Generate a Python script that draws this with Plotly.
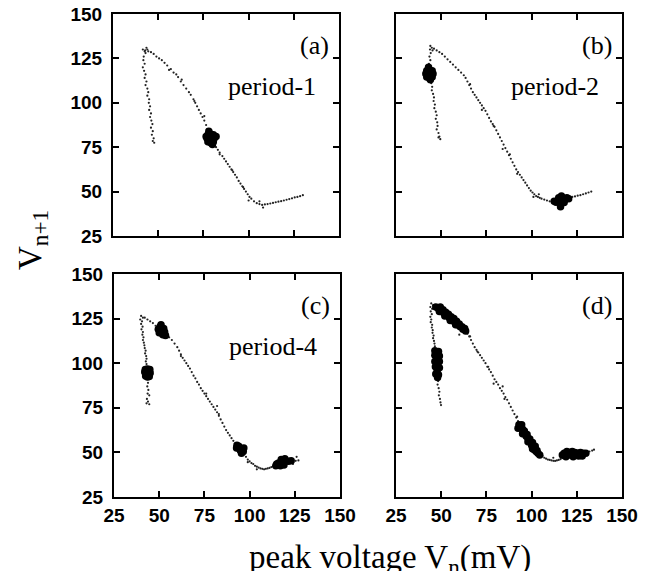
import plotly.graph_objects as go

# the page body adds an 8px margin at top/left; the figure runs to the window edge
PAGE_W, PAGE_H, PAD = 650, 571, 8
W, H = PAGE_W - PAD, PAGE_H - PAD

# ---- data: (Vn, Vn+1) pairs ----
a_dots = [
    (41.5, 130), (42.5, 129), (43, 128), (42, 126), (41.8, 124), (42.5, 122), (41.5, 120), (42.2, 118),
    (43, 116), (42.5, 114), (43.5, 112), (43, 110), (44, 108), (44.5, 106), (44, 104), (45, 102),
    (44.8, 100), (45.5, 98), (45, 96), (46, 94), (45.5, 92), (46.2, 90), (46.8, 88), (46, 86),
    (47, 84), (46.5, 82), (47.5, 80), (47, 78.5), (47.8, 77.5),
    (43.5, 131), (44, 130), (42.8, 129.5), (44.5, 129),
    (46, 128.5), (47.5, 127.5), (49, 126), (50.5, 125), (52, 124), (53.5, 122.5), (55, 121), (57, 119),
    (58.5, 117), (60, 116), (61, 114.5), (62.5, 112), (64, 110), (65.5, 108), (67, 106), (68, 104.5),
    (69.5, 102), (70.5, 100), (71.5, 98), (72.5, 96), (73.5, 94), (74.5, 92), (75.5, 90), (76.5, 87.5),
    (77, 85), (81, 77), (82, 75), (83, 73.5), (84, 72), (85.5, 70), (86.5, 68.5), (87.5, 67),
    (88.5, 65.5), (89.5, 64), (90.5, 62.5), (91.5, 61), (92.5, 59.5), (93.5, 58), (94.5, 56),
    (95.5, 54.5), (96.5, 53), (97.5, 51.5), (98.5, 50), (99.5, 48.5), (100.5, 47), (101.5, 46),
    (103, 44.5), (104.5, 43.5), (106, 43), (107.5, 42.5), (109, 42.8), (110.5, 43), (112, 43.3),
    (113.5, 43.6), (115, 44), (116.5, 44.3), (118, 44.6), (119.5, 45), (121, 45.4), (122.5, 45.8),
    (124, 46.2), (125.5, 46.7), (127, 47), (128.5, 47.4), (130, 48),
    (56, 118.5), (63, 113), (70, 101), (75.5, 92.5), (84, 71), (91, 62), (97, 52.5), (100, 45),
    (108, 41), (106, 44.5),
]
a_blobs = [
    (79, 80), (77, 80), (81, 80), (79, 82.5), (79, 77.5), (77.5, 82), (80.5, 82), (77.5, 78),
    (80.5, 78), (78, 84), (80, 76.5), (82, 81), (76.5, 81), (79, 79), (78, 80.5),
]

b_dots = [
    (44, 132), (44.8, 131), (43.8, 130), (45.2, 129.5), (44.2, 128), (43.5, 126), (44, 124), (43.2, 122),
    (43.8, 120), (43, 118), (44, 113), (44.5, 111), (45, 109), (44.8, 107), (45.5, 105), (46, 103),
    (45.8, 101), (46.5, 99), (46.2, 97), (47, 95), (47.5, 93), (47, 91), (47.8, 89), (48, 87),
    (47.5, 85), (48.5, 83), (49, 81), (49.5, 79.5), (48.5, 80.5),
    (46, 130.5), (47.5, 129.5), (49, 128.5), (50.5, 127.5), (52, 126), (53.5, 124.5), (55, 123),
    (56.5, 121.5), (58, 120), (59.5, 118.5), (61, 117), (62.5, 115.5), (63.5, 114), (64.5, 112),
    (65.5, 110), (66.5, 108), (67.5, 106), (68.5, 104.5), (69.5, 103), (70.5, 101.5), (71.5, 100),
    (72.5, 98.5), (73.5, 97), (74.5, 95.5), (75.5, 93.5), (76.5, 91.5), (77.5, 89.5), (78.5, 88),
    (79.5, 86.5), (80.5, 84.5), (81.5, 82.5), (82.5, 80.5), (83.5, 78.5), (84.5, 76.5), (85.5, 74.5),
    (86.5, 72.5), (87.5, 70.5), (88.5, 68.5), (89.5, 66.5), (90.5, 64.5), (91.5, 62.5), (92.5, 61),
    (93.5, 59.5), (94.5, 58), (95.5, 56.5), (96.5, 55), (97.5, 53.5), (98.5, 52), (99.5, 50.5),
    (100.5, 49.5), (101.5, 48.5), (102.5, 47.5), (103.5, 47), (104.5, 46.5), (105.5, 46), (107, 45.5),
    (108.5, 45), (110, 44.5), (111.5, 44.5), (113, 44.5),
    (118, 46), (119.5, 46.5), (121, 46.8), (122.5, 47), (124, 47.3), (125.5, 47.7), (127, 48),
    (128.5, 48.5), (130, 49), (131.5, 49.5), (133, 50),
    (66, 110.5), (72.5, 96), (79, 87), (84, 74), (88, 71), (92, 60), (101, 47), (104, 48.5), (112, 43.5),
]
b_blobs = [
    (43.5, 116.3), (41.5, 116.3), (45.5, 116.3), (43.5, 118.5), (43.5, 114), (42, 118), (45, 118),
    (42, 114.5), (45, 114.5), (43, 120), (44, 113),
    (116.5, 45), (114.5, 45), (118.5, 45.5), (116.5, 47.5), (116, 43), (113.5, 44), (119.5, 46.5),
    (115, 46.5), (118, 43.8), (116, 41.5), (112.5, 44.5), (120.5, 46),
]

c_dots = [
    (40, 126.5), (41, 125.5), (39.5, 124.5), (40.5, 123.5), (40, 122), (40.8, 120.5), (40.2, 119),
    (41, 117.5), (40.7, 116), (41.3, 114.5), (41, 113), (41.5, 111.5), (41.8, 110), (42, 108.5),
    (42.5, 107), (42.2, 105.5), (42.8, 104), (43, 102.5), (42.6, 101), (43, 99.5), (43.3, 98),
    (43.5, 91), (43.8, 89), (43.4, 87), (44, 85), (43.6, 83), (44.5, 82), (43.2, 80), (43.8, 78.5),
    (44.5, 77), (43, 77.5),
    (42, 125.5), (43.5, 124.5), (45, 123.5), (46.5, 122.5), (48, 121),
    (54, 116), (55.5, 114.5), (57, 113), (58.5, 111), (60, 109), (61, 107), (62, 105), (63, 103),
    (64, 101.5), (65, 100), (66, 98.5), (67, 97), (68, 95), (69, 93), (70, 91.5), (71, 89.5),
    (72, 88), (73, 86), (74, 84.5), (75, 83), (76, 81.5), (77, 80), (78, 78.5), (79, 77), (80, 75.5),
    (81, 74), (82, 72.5), (83, 70.5), (84, 68.5), (85, 66.5), (86, 64.5), (87, 62.5), (88, 61),
    (89, 59.5), (90, 58), (91, 56.5), (92, 55),
    (97, 49), (98, 47.5), (99, 46), (100, 45), (101, 44), (102, 43.5), (103, 42.5), (104, 42),
    (105, 41.5), (106, 41), (107, 40.8), (108, 40.5), (109, 40.8), (110, 41), (111, 41.3), (112, 41.8),
    (113, 42.3), (114, 42.8), (121, 44.5), (122.5, 44.8), (124, 45), (125.5, 45.3), (127, 45.5),
    (62, 104), (76, 83), (82, 76), (83, 71.5), (99, 44.5), (104, 40.5), (117, 47), (126, 47.5), (124, 43.5),
]
c_blobs = [
    (51.3, 118.2), (49.5, 119), (53, 117.5), (50.5, 120.5), (52, 116), (50, 117), (52.5, 119.5),
    (51, 121.5), (53.5, 115.5),
    (43.5, 94.5), (42, 95), (45, 94.5), (43.5, 96.8), (43.5, 92.3), (42.3, 96.5), (44.8, 96.5),
    (42.5, 92.8), (44.5, 92.5),
    (94.7, 51.5), (92.8, 52.5), (96.5, 50.5), (94, 53.5), (95.5, 49.5), (93, 54), (96.8, 52.5), (95, 51),
    (116, 44), (118, 44.5), (120, 45), (117, 42.5), (119, 43), (115, 43.5), (121.5, 45), (117.5, 46),
    (123, 45.3), (114.5, 42.5), (119.5, 46.5),
]

d_dots = [
    (44.5, 133.5), (45.5, 132.5), (44, 131.5), (45, 130.5), (44.2, 129), (44.8, 127.5), (44, 126),
    (44.5, 124.5), (44.2, 123), (45, 121.5), (44.8, 120), (45.3, 118.5), (45.2, 117), (45.8, 115.5),
    (45.5, 114), (46, 112.5), (46.3, 111), (46.5, 109.5), (46.7, 108),
    (48, 92), (48.3, 90), (48, 88), (48.6, 86), (49, 84), (48.7, 82), (49.3, 80), (49.6, 78), (49.9, 76.5),
    (46, 132.5), (64.5, 116.5), (65.5, 115), (66.5, 113), (67.5, 111), (68.5, 109), (69.5, 107.5),
    (70.5, 106), (71.5, 104.5), (72.5, 103), (73.5, 101.5), (74.5, 100), (75.5, 98), (76.5, 96.5),
    (77.5, 95), (78.5, 93), (79.5, 91), (80.5, 89.5), (81.5, 88), (82.5, 86), (83.5, 84.5), (84.5, 83),
    (85.5, 81), (86.5, 79.5), (87.5, 77.5), (88.5, 75.5), (89.5, 73.5), (90.5, 71.5), (91.5, 69.5),
    (92.5, 67.5), (93.5, 66),
    (106, 48), (107, 47), (108, 46.5), (109, 46), (110, 45.8), (111, 45.5), (112, 45.3), (113, 45.2),
    (114, 45.5), (115, 45.8), (116, 46.2), (117, 46.8), (132, 50.5), (133.5, 51), (134.5, 51.5),
    (70, 106.5), (76, 98), (79, 88.5), (84, 87), (85, 80), (92, 70), (112, 47), (60, 116), (66, 115),
]
d_blobs = [
    (47, 131.5), (48.5, 130.5), (49.5, 131.5), (50, 129.5), (51, 130), (51.5, 128), (52.5, 128.5),
    (53, 127), (54, 127.5), (54.5, 125.5), (55.5, 126), (56, 124.5), (57, 125), (57.5, 123),
    (58.5, 123.5), (59, 121.5), (60, 122), (60.5, 120.5), (61.5, 120.5), (62, 119), (63, 119.5),
    (63.5, 118), (49, 129), (52, 126.5), (55, 124), (58, 121.5),
    (47.8, 106), (46.5, 104.5), (49, 104), (47.5, 102.5), (46.5, 101), (49, 101), (48, 99.5),
    (46.8, 98), (49, 97.5), (47.8, 96), (47, 94), (48.5, 93.5), (48, 92), (48.5, 106.5), (46.5, 107),
    (93, 65.5), (94, 64), (95, 63), (95.5, 61.5), (96.5, 60.5), (97, 59), (98, 58), (98.5, 56.5),
    (99.5, 55.5), (100, 54), (101, 53), (101.5, 51.5), (102.5, 50.5), (103.5, 49.5), (104.5, 48.5),
    (94.5, 65.5), (96, 62), (97.5, 60), (99, 57.5), (100.5, 55.5), (102, 53.5), (103, 51),
    (92.5, 63.5), (95, 60.5), (98, 56), (100.5, 52),
    (118, 49.5), (119.5, 50.5), (121, 50), (122.5, 50.5), (124, 50), (125.5, 49.5), (127, 50),
    (128.5, 49.5), (120, 48.5), (122, 48.5), (124, 48.5), (126, 48), (128, 48), (117, 48.5),
    (130, 49.5), (119, 47.5), (123, 47.5),
]

panel_tags = ["(a)", "(b)", "(c)", "(d)"]
panel_periods = ["period-1", "period-2", "period-4", ""]
tick_vals = [25, 50, 75, 100, 125, 150]


# page pixel -> figure paper fraction
def px_x(p):
    return (p - PAD) / W


def px_y(p):
    return 1 - (p - PAD) / H


# panel boxes in page pixels: (left, right, top, bottom)
boxes = [(113, 339, 14, 236), (396, 622, 14, 236), (114, 340, 274, 497), (396, 622, 274, 497)]

fig = go.Figure()
panels = [(a_dots, a_blobs), (b_dots, b_blobs), (c_dots, c_blobs), (d_dots, d_blobs)]
for i, (dots, blobs) in enumerate(panels):
    ax = "" if i == 0 else str(i + 1)
    fig.add_trace(go.Scatter(
        x=[p[0] for p in dots], y=[p[1] for p in dots], mode="markers",
        marker=dict(size=2.2, color="#222"), xaxis="x" + ax, yaxis="y" + ax, showlegend=False,
    ))
    fig.add_trace(go.Scatter(
        x=[p[0] for p in blobs], y=[p[1] for p in blobs], mode="markers",
        marker=dict(size=7.5, color="black"), xaxis="x" + ax, yaxis="y" + ax, showlegend=False,
    ))

axis_common = dict(
    range=[25, 150], tickvals=tick_vals, ticks="inside", ticklen=6, tickwidth=2, tickcolor="black",
    showline=True, linecolor="black", linewidth=2, mirror="ticks", showgrid=False, zeroline=False,
    automargin=False, ticklabeloverflow="allow",
    tickfont=dict(family="Liberation Sans", size=19, color="black", weight="bold"),
)

layout = dict(
    width=W, height=H, margin=dict(l=0, r=0, t=0, b=0, autoexpand=False),
    paper_bgcolor="white", plot_bgcolor="white", showlegend=False,
)
annotations = []
serif = dict(family="Liberation Serif", size=26, color="black")
for i, (l, r, t, b) in enumerate(boxes):
    ax = "" if i == 0 else str(i + 1)
    layout["xaxis" + ax] = dict(axis_common, domain=[px_x(l), px_x(r)], anchor="y" + ax,
                                showticklabels=i >= 2, ticklabelstandoff=0)
    layout["yaxis" + ax] = dict(axis_common, domain=[px_y(b), px_y(t)], anchor="x" + ax,
                                showticklabels=i % 2 == 0, ticklabelstandoff=5)
    annotations.append(dict(
        text=panel_tags[i], x=px_x(r - 25), y=px_y(t + 31), xref="paper", yref="paper",
        xanchor="center", yanchor="middle", showarrow=False, font=serif,
    ))
    if panel_periods[i]:
        annotations.append(dict(
            text=panel_periods[i], x=px_x(r - 67), y=px_y(t + 72), xref="paper", yref="paper",
            xanchor="center", yanchor="middle", showarrow=False, font=serif,
        ))

annotations.append(dict(
    text="V<sub>n+1</sub>", x=px_x(32), y=px_y(240), xref="paper", yref="paper", textangle=-90,
    xanchor="center", yanchor="middle", showarrow=False,
    font=dict(family="Liberation Serif", size=33, color="black"),
))
annotations.append(dict(
    text="peak voltage V<sub>n</sub>(mV)", x=px_x(390), y=px_y(559), xref="paper", yref="paper",
    xanchor="center", yanchor="middle", showarrow=False,
    font=dict(family="Liberation Serif", size=33, color="black"),
))
layout["annotations"] = annotations

fig.update_layout(**layout)
fig.write_html("out.html")
